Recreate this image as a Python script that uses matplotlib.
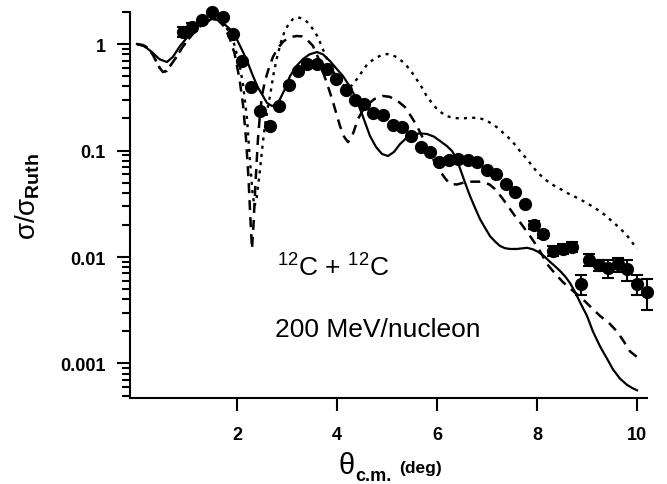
import matplotlib
matplotlib.use("Agg")
import matplotlib.pyplot as plt
from matplotlib.ticker import LogLocator, FixedLocator, NullFormatter, FixedFormatter

plt.rcParams['font.family'] = ['Liberation Sans', 'DejaVu Sans']
plt.rcParams['mathtext.fontset'] = 'custom'
plt.rcParams['mathtext.rm'] = 'Liberation Sans'
plt.rcParams['mathtext.it'] = 'Liberation Sans'
plt.rcParams['mathtext.bf'] = 'Liberation Sans:bold'

# experimental data
theta_exp = [0.92, 1.10, 1.30, 1.50, 1.72, 1.92, 2.10, 2.28, 2.46, 2.66, 2.84, 3.04, 3.22, 3.40,
             3.60, 3.80, 3.98, 4.18, 4.36, 4.54, 4.72, 4.92, 5.12, 5.30, 5.48, 5.68, 5.86, 6.04,
             6.24, 6.42, 6.62, 6.80, 7.00, 7.18, 7.38, 7.56, 7.76, 7.94, 8.12, 8.32, 8.52, 8.70,
             8.88, 9.04, 9.24, 9.42, 9.62, 9.80, 10.00, 10.20]
sig_exp = [1.296, 1.444, 1.680, 1.998, 1.793, 1.241, 0.692, 0.395, 0.235, 0.170, 0.262, 0.412,
           0.558, 0.649, 0.649, 0.583, 0.469, 0.370, 0.298, 0.273, 0.225, 0.2155, 0.1735, 0.166,
           0.137, 0.108, 0.0968, 0.078, 0.0814, 0.0832, 0.0814, 0.078, 0.0656, 0.0602, 0.0485,
           0.0408, 0.0315, 0.020, 0.0164, 0.0114, 0.0119, 0.0124, 0.00558, 0.00937, 0.00841,
           0.00788, 0.00859, 0.00771, 0.00558, 0.00469]
err_exp = [0.14, 0.12, 0.0, 0.0, 0.0, 0.0, 0.0, 0.0, 0.0, 0.0, 0.0, 0.0,
           0.0, 0.0, 0.0, 0.0, 0.0, 0.0, 0.0, 0.0, 0.0, 0.0, 0.0, 0.0,
           0.0, 0.0, 0.0, 0.0, 0.0, 0.0, 0.0, 0.0, 0.0, 0.0, 0.0,
           0.0, 0.0, 0.0016, 0.0013, 0.0012, 0.0013, 0.0013, 0.0012, 0.0012, 0.0010,
           0.0015, 0.0013, 0.0017, 0.0012, 0.0015]

# solid curve
theta_solid = [0.0, 0.15, 0.3, 0.45, 0.6, 0.72, 0.86, 1.0, 1.2, 1.35, 1.5, 1.65, 1.86, 2.0,
               2.12, 2.22, 2.32, 2.42, 2.52, 2.6, 2.7, 2.78, 2.86, 2.96, 3.06, 3.2, 3.32, 3.45,
               3.6, 3.72, 3.86, 4.0, 4.12, 4.24, 4.36, 4.5, 4.66, 4.78, 4.9, 5.02, 5.14, 5.26,
               5.38, 5.5, 5.65, 5.8, 5.94, 6.06, 6.2, 6.3, 6.38, 6.46, 6.56, 6.66, 6.76, 6.86,
               6.96, 7.06, 7.16, 7.26, 7.36, 7.46, 7.6, 7.8, 7.92, 8.02, 8.14, 8.26, 8.36, 8.46,
               8.56, 8.66, 8.76, 8.86, 9.0, 9.12, 9.26, 9.4, 9.52, 9.66, 9.8, 9.9, 10.0]
sig_solid = [1.0, 0.95, 0.84, 0.72, 0.678, 0.76, 0.957, 1.15, 1.444, 1.62, 1.716, 1.68, 1.383,
             1.1, 0.841, 0.66, 0.50, 0.39, 0.325, 0.28, 0.262, 0.27, 0.304, 0.38, 0.50, 0.63,
             0.723, 0.80, 0.841, 0.80, 0.692, 0.58, 0.50, 0.41, 0.325, 0.22, 0.137, 0.108,
             0.0929, 0.0888, 0.097, 0.115, 0.130, 0.140, 0.145, 0.143, 0.135, 0.123, 0.11, 0.099,
             0.086, 0.068, 0.050, 0.0374, 0.029, 0.0227, 0.0188, 0.0157, 0.0140, 0.0127, 0.0121,
             0.0119, 0.0119, 0.0122, 0.0118, 0.0112, 0.0102, 0.0090, 0.0082, 0.0074, 0.0066,
             0.0057, 0.0047, 0.00376, 0.0028, 0.00199, 0.00145, 0.00111, 0.00088, 0.00072,
             0.00063, 0.00059, 0.00056]

# dashed curve
theta_dash = [0.0, 0.12, 0.25, 0.35, 0.45, 0.52, 0.6, 0.7, 0.8, 0.9, 1.0, 1.2, 1.35, 1.5, 1.62,
              1.75, 1.85, 1.95, 2.05, 2.12, 2.18, 2.23, 2.27, 2.3, 2.33, 2.37, 2.42, 2.46, 2.5,
              2.56, 2.62, 2.72, 2.82, 2.92, 3.0, 3.1, 3.2, 3.3, 3.4, 3.52, 3.62, 3.72, 3.82,
              3.92, 4.06, 4.14, 4.22, 4.3, 4.42, 4.52, 4.62, 4.75, 4.92, 5.05, 5.2, 5.36, 5.48,
              5.6, 5.72, 5.82, 5.94, 6.06, 6.16, 6.26, 6.4, 6.6, 6.9, 7.05, 7.16, 7.3, 7.42,
              7.54, 7.66, 7.78, 7.9, 8.05, 8.2, 8.36, 8.52, 8.72, 8.92, 9.1, 9.26, 9.44, 9.6,
              9.74, 9.86, 10.0]
sig_dash = [1.0, 0.98, 0.90, 0.74, 0.60, 0.546, 0.56, 0.66, 0.77, 0.92, 1.07, 1.38, 1.58, 1.72,
            1.68, 1.45, 1.15, 0.82, 0.47, 0.27, 0.13, 0.055, 0.022, 0.0119, 0.02, 0.05, 0.13,
            0.22, 0.33, 0.45, 0.56, 0.76, 0.92, 1.05, 1.12, 1.17, 1.19, 1.18, 1.10, 0.96, 0.75,
            0.546, 0.40, 0.285, 0.17, 0.135, 0.12, 0.135, 0.198, 0.24, 0.273, 0.305, 0.325,
            0.32, 0.295, 0.256, 0.21, 0.17, 0.13, 0.103, 0.08, 0.064, 0.055, 0.0485, 0.048,
            0.051, 0.051, 0.048, 0.0434, 0.036, 0.030, 0.025, 0.0212, 0.0178, 0.0148, 0.0116,
            0.0086, 0.0070, 0.0058, 0.0048, 0.0040, 0.0033, 0.0028, 0.0024, 0.0020, 0.0016,
            0.0013, 0.00115]

# dotted curve
theta_dot = [0.0, 0.12, 0.25, 0.35, 0.45, 0.52, 0.6, 0.7, 0.8, 0.9, 1.0, 1.2, 1.35, 1.5, 1.62,
             1.75, 1.85, 1.95, 2.05, 2.12, 2.2, 2.26, 2.31, 2.35, 2.39, 2.45, 2.5, 2.55, 2.62,
             2.66, 2.73, 2.8, 2.88, 2.96, 3.05, 3.12, 3.2, 3.3, 3.4, 3.5, 3.6, 3.66, 3.8, 3.9,
             4.0, 4.1, 4.2, 4.3, 4.4, 4.5, 4.6, 4.7, 4.8, 4.9, 5.0, 5.1, 5.2, 5.3, 5.4, 5.5,
             5.6, 5.7, 5.8, 5.9, 6.0, 6.1, 6.2, 6.35, 6.5, 6.65, 6.8, 6.9, 7.0, 7.1, 7.2, 7.35,
             7.5, 7.65, 7.8, 7.9, 8.0, 8.15, 8.3, 8.45, 8.6, 8.75, 8.9, 9.05, 9.2, 9.35, 9.5,
             9.65, 9.8, 9.9, 10.0]
sig_dot = [1.0, 0.98, 0.90, 0.74, 0.60, 0.55, 0.56, 0.66, 0.77, 0.92, 1.07, 1.38, 1.58, 1.72,
           1.70, 1.52, 1.28, 0.98, 0.64, 0.42, 0.2, 0.08, 0.04, 0.03, 0.035, 0.06, 0.1, 0.16,
           0.26, 0.325, 0.52, 0.75, 1.05, 1.35, 1.58, 1.72, 1.79, 1.74, 1.62, 1.42, 1.2, 1.04,
           0.72, 0.58, 0.48, 0.42, 0.39, 0.41, 0.47, 0.55, 0.64, 0.70, 0.75, 0.79, 0.806, 0.79,
           0.75, 0.69, 0.62, 0.54, 0.46, 0.39, 0.32, 0.28, 0.245, 0.225, 0.21, 0.202, 0.20,
           0.203, 0.203, 0.198, 0.19, 0.178, 0.165, 0.143, 0.123, 0.10, 0.083, 0.072, 0.063,
           0.054, 0.048, 0.044, 0.040, 0.037, 0.034, 0.031, 0.028, 0.025, 0.0217, 0.0188,
           0.0159, 0.0138, 0.0119]

xticks = [2, 4, 6, 8, 10]
xticklabels = ['2', '4', '6', '8', '10']
yticks = [0.001, 0.01, 0.1, 1]
yticklabels = ['0.001', '0.01', '0.1', '1']

fig = plt.figure(figsize=(6.67, 4.85), dpi=100)
ax = fig.add_axes([130/667, 1 - 399/485, 517/667, 386/485])

ax.plot(theta_dot, sig_dot, color='black', lw=1.7, linestyle=(0, (1.3, 2.2)))
ax.plot(theta_dash, sig_dash, color='black', lw=1.8, linestyle=(0, (4.0, 2.8)))
ax.plot(theta_solid, sig_solid, color='black', lw=1.6, solid_joinstyle='round')
ax.errorbar(theta_exp, sig_exp, yerr=err_exp, fmt='o', color='black', ms=8.5,
            elinewidth=1.5, capsize=4, capthick=1.5, clip_on=False, zorder=5)

ax.set_yscale('log')
ax.set_xlim(-0.14, 10.2)
ax.set_ylim(0.000474, 2.0)

ax.spines['top'].set_visible(False)
ax.spines['right'].set_visible(False)
for s in ('left', 'bottom'):
    ax.spines[s].set_linewidth(1.5)

ax.xaxis.set_major_locator(FixedLocator(xticks))
ax.xaxis.set_major_formatter(FixedFormatter(xticklabels))
ax.yaxis.set_major_locator(FixedLocator(yticks))
ax.yaxis.set_major_formatter(FixedFormatter(yticklabels))
ax.yaxis.set_minor_locator(LogLocator(base=10, subs=[2, 3, 4, 5, 6, 7, 8, 9], numticks=20))
ax.yaxis.set_minor_formatter(NullFormatter())
ax.tick_params(axis='both', which='major', direction='out', length=9.5, width=1.5,
               labelsize=13, pad=8)
ax.tick_params(axis='x', which='major', pad=11)
ax.tick_params(axis='y', which='minor', direction='out', length=5.5, width=1.5)
for lab in ax.get_xticklabels() + ax.get_yticklabels():
    lab.set_fontweight('bold')

ax.text(0.284, 0.316, r'$^{12}$C + $^{12}$C', transform=ax.transAxes, fontsize=19,
        ha='left', va='baseline')
ax.text(0.281, 0.161, '200 MeV/nucleon', transform=ax.transAxes, fontsize=19,
        ha='left', va='baseline')

fig.text(28/667, 1 - 196/485, r'$\sigma/\sigma_{\mathbf{Ruth}}$', rotation=90, fontsize=20,
         ha='center', va='center')
fig.text(339/667, 1 - 474/485, 'θ', fontsize=21, ha='left', va='baseline')
fig.text(355/667, 1 - 481/485, 'c.m.', fontsize=13, fontweight='bold', ha='left', va='baseline')
fig.text(399/667, 1 - 473/485, '(deg)', fontsize=12.5, fontweight='bold', ha='left', va='baseline')

fig.savefig('out.png', dpi=100)
